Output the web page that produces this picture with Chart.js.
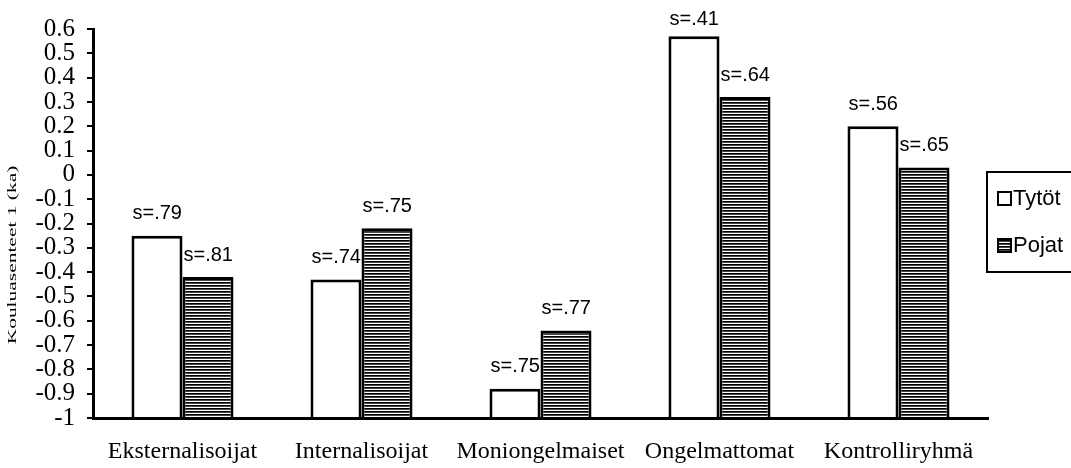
<!DOCTYPE html>
<html>
<head>
<meta charset="utf-8">
<script src="https://cdn.jsdelivr.net/npm/chart.js@4/dist/chart.umd.min.js"></script>
<style>
  html, body { margin: 0; padding: 0; background: #ffffff; }
  #wrap { width: 1071px; height: 468px; }
</style>
</head>
<body>
<div id="wrap"><canvas id="c" width="1071" height="468"></canvas></div>
<script>
// ---- data ----
const categories = ["Eksternalisoijat", "Internalisoijat", "Moniongelmaiset", "Ongelmattomat", "Kontrolliryhmä"];
const seriesNames = ["Tytöt", "Pojat"];
const tytotValues = [-0.25, -0.43, -0.88, 0.57, 0.20];
const pojatValues = [-0.42, -0.22, -0.64, 0.32, 0.03];
const tytotSd = ["s=.79", "s=.74", "s=.75", "s=.41", "s=.56"];
const pojatSd = ["s=.81", "s=.75", "s=.77", "s=.64", "s=.65"];
const yTickValues = [0.6, 0.5, 0.4, 0.3, 0.2, 0.1, 0, -0.1, -0.2, -0.3, -0.4, -0.5, -0.6, -0.7, -0.8, -0.9, -1];
const yTitle = "Kouluasenteet 1 (ka)";

// ---- stripe pattern for Pojat ----
function makeStripes() {
  const t = document.createElement('canvas');
  t.width = 4; t.height = 3;
  const g = t.getContext('2d');
  g.fillStyle = '#ffffff'; g.fillRect(0, 0, 4, 3);
  g.fillStyle = '#000000'; g.fillRect(0, 0, 4, 1);
  g.fillStyle = '#444444'; g.fillRect(0, 1, 4, 1);
  const c = document.getElementById('c').getContext('2d');
  return c.createPattern(t, 'repeat');
}
const stripes = makeStripes();

const serif = '"Liberation Serif", "Times New Roman", serif';
const sans = '"Liberation Sans", Arial, sans-serif';

const labelsPlugin = {
  id: 'sdLabels',
  afterDatasetsDraw(chart) {
    const ctx = chart.ctx;
    ctx.save();
    ctx.font = '20px ' + sans;
    ctx.fillStyle = '#000';
    ctx.textAlign = 'left';
    ctx.textBaseline = 'middle';
    const texts = [tytotSd, pojatSd];
    chart.data.datasets.forEach((ds, di) => {
      chart.getDatasetMeta(di).data.forEach((bar, i) => {
        const left = bar.x - bar.width / 2 + 1;
        const y = Math.max(bar.y - 22, 19);
        ctx.fillText(texts[di][i], left, y);
      });
    });
    ctx.restore();
  }
};

const legendPlugin = {
  id: 'boxLegend',
  afterDraw(chart) {
    const ctx = chart.ctx;
    ctx.save();
    ctx.strokeStyle = '#000';
    ctx.lineWidth = 2;
    ctx.strokeRect(987, 172, 100, 100);
    ctx.font = '22px ' + sans;
    ctx.textBaseline = 'middle';
    ctx.fillStyle = '#000';
    const ys = [198, 245];
    seriesNames.forEach((name, i) => {
      const y = ys[i];
      ctx.fillStyle = i === 0 ? '#fff' : stripes;
      ctx.fillRect(998, y - 6, 13, 13);
      ctx.lineWidth = 2;
      ctx.strokeRect(998, y - 6, 13, 13);
      ctx.fillStyle = '#000';
      ctx.fillText(name, 1013, y + 1);
    });
    // y-axis title (stretched along its length like the scan)
    ctx.save();
    ctx.translate(13, 255);
    ctx.rotate(-Math.PI / 2);
    ctx.scale(1.65, 1);
    ctx.font = '13px ' + serif;
    ctx.textAlign = 'center';
    ctx.textBaseline = 'middle';
    ctx.fillText(yTitle, 0, 0);
    ctx.restore();
    ctx.restore();
  }
};

new Chart(document.getElementById('c'), {
  type: 'bar',
  data: {
    labels: categories,
    datasets: [
      { label: seriesNames[0], data: tytotValues, base: -1, backgroundColor: '#ffffff', borderColor: '#000000', borderWidth: 3,
        categoryPercentage: 0.57, barPercentage: 1.0 },
      { label: seriesNames[1], data: pojatValues, base: -1, backgroundColor: stripes, borderColor: '#000000', borderWidth: 3,
        categoryPercentage: 0.57, barPercentage: 1.0 }
    ]
  },
  options: {
    responsive: false,
    animation: false,
    devicePixelRatio: 1,
    layout: { padding: { top: 29, right: 83, bottom: 0, left: 0 } },
    plugins: { legend: { display: false }, tooltip: { enabled: false } },
    scales: {
      x: {
        grid: { display: false },
        border: { display: true, color: '#000', width: 3 },
        ticks: { color: '#000', font: { family: serif, size: 24 }, padding: 11, maxRotation: 0, autoSkip: false },
        afterFit(scale) { scale.height = 50; }
      },
      y: {
        min: -1, max: 0.6,
        afterBuildTicks(scale) { scale.ticks = yTickValues.map(v => ({ value: v })); },
        grid: { drawOnChartArea: false, drawTicks: true, tickLength: 6, color: '#000', lineWidth: 2 },
        border: { display: true, color: '#000', width: 3 },
        ticks: {
          color: '#000', autoSkip: false, padding: 12,
          font: { family: serif, size: 25, lineHeight: 1.0 },
          callback(v) { const r = Math.round(v * 10) / 10; return r === 0 ? '0' : String(r); }
        },
        afterFit(scale) { scale.width = 93; }
      }
    }
  },
  plugins: [labelsPlugin, legendPlugin]
});
</script>
</body>
</html>
